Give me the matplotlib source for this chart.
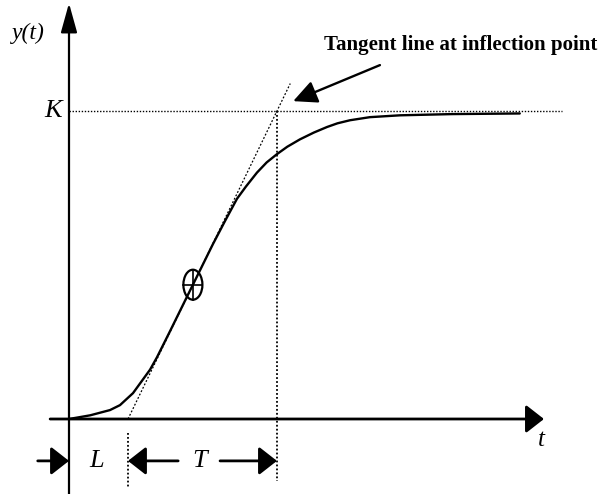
import numpy as np
import matplotlib
matplotlib.use('Agg')
import matplotlib.pyplot as plt
from matplotlib.patches import Ellipse

# step response curve (t in units of L, y in units of K)
t_curve = [0.0, 0.36, 0.695, 0.864, 1.085, 1.373, 1.49, 1.712, 2.10, 2.44, 2.65,
           2.847, 3.0, 3.186, 3.35, 3.525, 3.7, 3.915, 4.15, 4.373, 4.55, 4.763,
           5.1, 5.61, 6.5, 7.64]
y_curve = [0.0, 0.012, 0.029, 0.045, 0.084, 0.160, 0.200, 0.285, 0.436, 0.568, 0.645,
           0.715, 0.755, 0.800, 0.833, 0.860, 0.884, 0.908, 0.930, 0.948, 0.960, 0.970,
           0.980, 0.986, 0.990, 0.992]

K = 1.0
L = 1.0
T = 2.525
t_infl, y_infl = 2.10, 0.436
t_tan = [L, 3.75]
y_tan = [0.0, (3.75 - L) / T * K]

serif = 'Liberation Serif'

fig = plt.figure(figsize=(6.06, 4.94), dpi=100)
ax = fig.add_axes([0, 0, 1, 1])
ax.set_xlim(-69 / 59, 537 / 59)
ax.set_ylim(-75 / 308, 419 / 308)
ax.axis('off')

# axes with arrows
ax.annotate('', xy=(0, 1.35), xytext=(0, -0.25),
            arrowprops=dict(arrowstyle='-|>,head_length=1.8,head_width=0.5',
                            lw=1.6, color='k', shrinkA=0, shrinkB=0))
ax.annotate('', xy=(8.05, 0), xytext=(-0.32, 0),
            arrowprops=dict(arrowstyle='-|>,head_length=1.1,head_width=0.86',
                            lw=2, color='k', shrinkA=0, shrinkB=0))

# K level, tangent, vertical guides
ax.plot([0, 8.35], [K, K], color='k', lw=1, ls=(0, (1, 1.2)))
ax.plot(t_tan, y_tan, color='k', lw=0.9, ls=(0, (1.5, 1.5)))
ax.plot([L, L], [-0.045, -0.22], color='k', lw=1.3, ls=(0, (1, 1.2)))
ax.plot([L + T, L + T], [K, -0.2], color='k', lw=1.3, ls=(0, (1, 1.2)))

# response
ax.plot(t_curve, y_curve, color='k', lw=1.7, solid_capstyle='round',
        solid_joinstyle='round')

# inflection marker
ax.add_patch(Ellipse((t_infl, y_infl), 19 / 59, 30 / 308, fill=False, lw=1.6, ec='k'))
ax.plot([t_infl - 9.5 / 59, t_infl + 9.5 / 59], [y_infl, y_infl], color='k', lw=1.2)
ax.plot([t_infl, t_infl], [y_infl - 15 / 308, y_infl + 15 / 308], color='k', lw=1.2)

# L and T arrows
arr = dict(arrowstyle='-|>,head_length=1.1,head_width=0.86', lw=2, color='k',
           shrinkA=0, shrinkB=0)
y_arr = -0.136
ax.annotate('', xy=(0, y_arr), xytext=(-0.53, y_arr), arrowprops=arr)
ax.annotate('', xy=(L, y_arr), xytext=(1.85, y_arr), arrowprops=arr)
ax.annotate('', xy=(L + T, y_arr), xytext=(2.56, y_arr), arrowprops=arr)

# labels
ax.text(-0.69, 1.253, 'y(t)', family=serif, style='italic', fontsize=17,
        ha='center', va='center')
ax.text(-0.12, K, 'K', family=serif, style='italic', fontsize=19,
        ha='right', va='center')
ax.text(8.0, -0.068, 't', family=serif, style='italic', fontsize=18,
        ha='center', va='center')
ax.text(0.475, y_arr, 'L', family=serif, style='italic', fontsize=19,
        ha='center', va='center')
ax.text(2.22, y_arr, 'T', family=serif, style='italic', fontsize=19,
        ha='center', va='center')

ax.text(6.64, 1.214, 'Tangent line at inflection point', family=serif,
        weight='bold', fontsize=15, ha='center', va='center')
ax.annotate('', xy=(3.80, 1.032), xytext=(5.27, 1.149),
            arrowprops=dict(arrowstyle='-|>,head_length=1.45,head_width=0.7',
                            lw=1.7, color='k', shrinkA=0, shrinkB=0))

fig.savefig('out.png', dpi=100)
